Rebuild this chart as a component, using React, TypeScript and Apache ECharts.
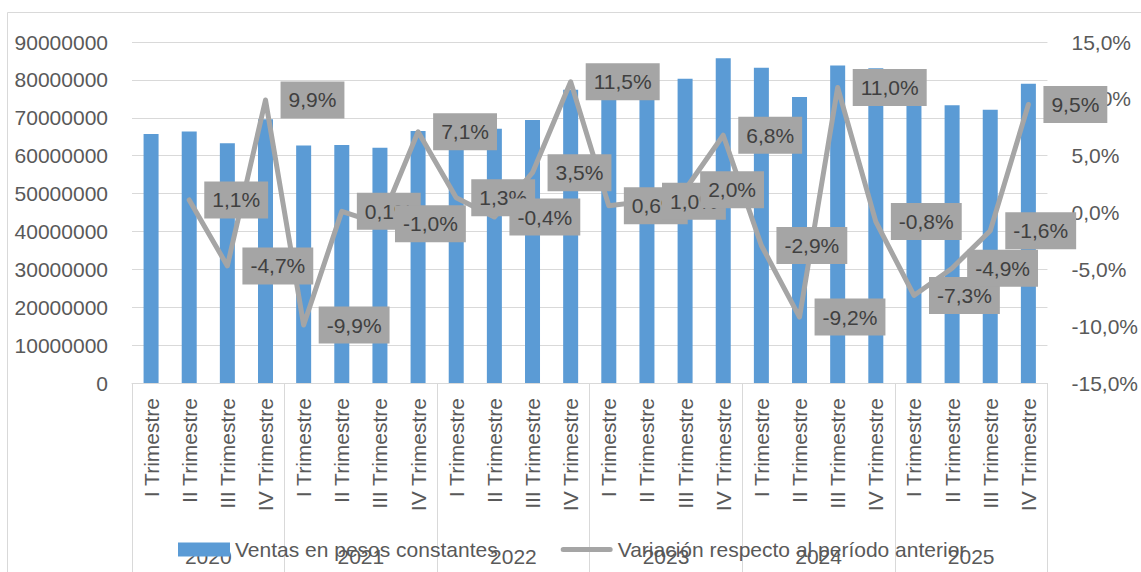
import React, { useEffect, useRef } from "react";
import * as echarts from "echarts";

const quarters = [
  "I Trimestre", "II Trimestre", "III Trimestre", "IV Trimestre",
  "I Trimestre", "II Trimestre", "III Trimestre", "IV Trimestre",
  "I Trimestre", "II Trimestre", "III Trimestre", "IV Trimestre",
  "I Trimestre", "II Trimestre", "III Trimestre", "IV Trimestre",
  "I Trimestre", "II Trimestre", "III Trimestre", "IV Trimestre",
  "I Trimestre", "II Trimestre", "III Trimestre", "IV Trimestre",
];
const years = ["2020", "2021", "2022", "2023", "2024", "2025"];

const ventas = [
  65700000, 66400000, 63300000, 69600000,
  62700000, 62800000, 62100000, 66500000,
  67400000, 67100000, 69400000, 77400000,
  77900000, 78700000, 80300000, 85700000,
  83200000, 75500000, 83800000, 83100000,
  77100000, 73300000, 72100000, 79000000,
];

const variacion = [
  null, 1.1, -4.7, 9.9,
  -9.9, 0.1, -1.0, 7.1,
  1.3, -0.4, 3.5, 11.5,
  0.6, 1.0, 2.0, 6.8,
  -2.9, -9.2, 11.0, -0.8,
  -7.3, -4.9, -1.6, 9.5,
];

const FONT = "Liberation Sans";
const TXT = "#595959";
const GRID = "#D9D9D9";
const LINE = "#A5A5A5";

const pct = (v: number) => v.toFixed(1).replace(".", ",") + "%";

export default function App() {
  const ref = useRef<HTMLDivElement>(null);
  useEffect(() => {
    if (!ref.current) return;
    const chart = echarts.init(ref.current, undefined, { renderer: "svg" });
    chart.setOption({
      animation: false,
      textStyle: { fontFamily: FONT },
      graphic: [
        {
          type: "rect",
          shape: { x: 7.5, y: 12.5, width: 1200, height: 600 },
          style: { fill: "none", stroke: GRID, lineWidth: 1 },
          silent: true,
        },
      ],
      grid: { left: 132, right: 93, top: 42, bottom: 189 },
      legend: {
        left: 173,
        top: 534,
        itemWidth: 52,
        itemHeight: 14,
        itemGap: 63,
        textStyle: { fontFamily: FONT, fontSize: 21, color: TXT },
        data: [
          { name: "Ventas en pesos constantes", icon: "rect" },
          {
            name: "Variación respecto al período anterior",
            icon: "path://M2.5,0H49.5A2.5,2.5 0 0 1 49.5,5H2.5A2.5,2.5 0 0 1 2.5,0Z",
            itemStyle: { color: LINE },
          },
        ],
      },
      xAxis: [
        {
          type: "category",
          data: quarters,
          position: "bottom",
          axisLine: { show: false, onZero: false },
          axisTick: { show: false },
          axisLabel: {
            interval: 0,
            rotate: 90,
            margin: 15,
            fontFamily: FONT,
            fontSize: 21,
            color: TXT,
          },
        },
        {
          type: "category",
          data: years,
          position: "bottom",
          axisLine: { show: true, onZero: false, lineStyle: { color: GRID, width: 1 } },
          axisTick: { show: true, length: 190, lineStyle: { color: GRID, width: 1 } },
          axisLabel: {
            interval: 0,
            margin: 163,
            fontFamily: FONT,
            fontSize: 21,
            color: TXT,
          },
        },
      ],
      yAxis: [
        {
          type: "value",
          min: 0,
          max: 90000000,
          interval: 10000000,
          axisLine: { show: false },
          axisTick: { show: false },
          splitLine: { lineStyle: { color: GRID, width: 1 } },
          axisLabel: {
            margin: 24,
            fontFamily: FONT,
            fontSize: 21,
            color: TXT,
            formatter: (v: number) => String(v),
          },
        },
        {
          type: "value",
          min: -15,
          max: 15,
          interval: 5,
          axisLine: { show: false },
          axisTick: { show: false },
          splitLine: { show: false },
          axisLabel: {
            margin: 24,
            fontFamily: FONT,
            fontSize: 21,
            color: TXT,
            formatter: (v: number) => pct(v),
          },
        },
      ],
      series: [
        {
          name: "Ventas en pesos constantes",
          type: "bar",
          xAxisIndex: 0,
          yAxisIndex: 0,
          data: ventas,
          barWidth: 15,
          itemStyle: { color: "#5B9BD5" },
        },
        {
          name: "Variación respecto al período anterior",
          type: "line",
          xAxisIndex: 0,
          yAxisIndex: 1,
          data: variacion,
          symbol: "circle",
          symbolSize: 0.1,
          showSymbol: true,
          lineStyle: { color: LINE, width: 5, join: "round", cap: "round" },
          itemStyle: { color: LINE },
          label: {
            show: true,
            position: "right",
            distance: 15,
            formatter: (p: any) => (p.value == null ? "" : pct(p.value)),
            backgroundColor: LINE,
            color: "#404040",
            fontFamily: FONT,
            fontSize: 21,
            lineHeight: 21,
            padding: [8, 8],
          },
          z: 3,
        },
      ],
    });
    return () => chart.dispose();
  }, []);
  return (
    <div
      ref={ref}
      style={{ position: "absolute", left: 0, top: 0, width: 1141, height: 572 }}
    />
  );
}
